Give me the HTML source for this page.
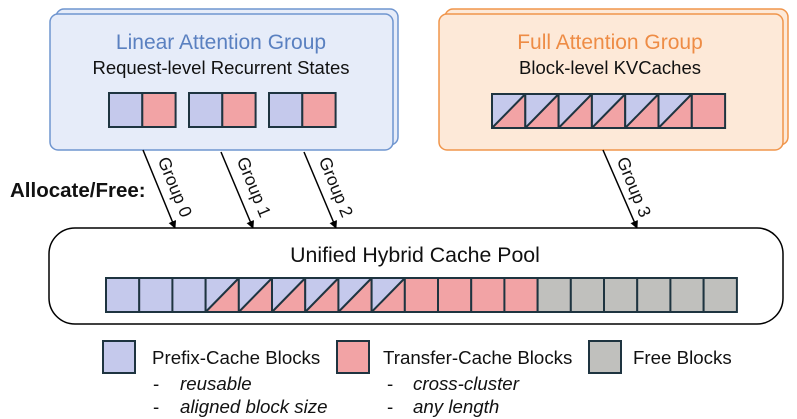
<!DOCTYPE html>
<html><head><meta charset="utf-8"><style>
html,body{margin:0;padding:0;background:#fff}
svg{display:block;font-family:"Liberation Sans",Arial,sans-serif}
</style></head><body>
<svg width="797" height="419" viewBox="0 0 797 419" xmlns="http://www.w3.org/2000/svg">
<defs>
<marker id="ah" markerWidth="8" markerHeight="8" refX="7" refY="4" orient="auto" markerUnits="userSpaceOnUse">
<path d="M0,0 L8,4 L0,8 z" fill="#000"/></marker>
<g id="bs"><rect x="0" y="0" width="33.3" height="34" fill="#c5c9ec"/><path d="M0,34 L33.3,0 L33.3,34 z" fill="#f2a3a5"/><rect x="0" y="0" width="33.3" height="34" fill="none" stroke="#1e3440" stroke-width="2"/><line x1="0" y1="34" x2="33.3" y2="0" stroke="#1e3440" stroke-width="2"/></g>
<rect id="bb" x="0" y="0" width="33.3" height="34" fill="#c5c9ec" stroke="#1e3440" stroke-width="2"/>
<rect id="br" x="0" y="0" width="33.3" height="34" fill="#f2a3a5" stroke="#1e3440" stroke-width="2"/>
<rect id="bg" x="0" y="0" width="33.3" height="34" fill="#c0c0bd" stroke="#1e3440" stroke-width="2"/>
</defs>
<rect x="56" y="9" width="342" height="136" rx="8" fill="#e6ecf9" stroke="#6f95cf" stroke-width="1.5"/>
<rect x="50" y="14" width="343" height="136" rx="8" fill="#e6ecf9" stroke="#6f95cf" stroke-width="1.5"/>
<text x="221" y="49" font-size="21" fill="#5a80c0" text-anchor="middle">Linear Attention Group</text>
<text x="221" y="74" font-size="18.5" fill="#111" text-anchor="middle">Request-level Recurrent States</text>
<use href="#bb" x="109" y="93"/><use href="#br" x="142.3" y="93"/>
<use href="#bb" x="189" y="93"/><use href="#br" x="222.3" y="93"/>
<use href="#bb" x="269" y="93"/><use href="#br" x="302.3" y="93"/>
<rect x="445" y="9" width="343" height="136" rx="8" fill="#fde9d8" stroke="#f0954b" stroke-width="1.5"/>
<rect x="439" y="14" width="344" height="136" rx="8" fill="#fde9d8" stroke="#f0954b" stroke-width="1.5"/>
<text x="610" y="49" font-size="21" fill="#ee8c45" text-anchor="middle">Full Attention Group</text>
<text x="610" y="74" font-size="18.5" fill="#111" text-anchor="middle">Block-level KVCaches</text>
<use href="#bs" x="492" y="94"/><use href="#bs" x="525.3" y="94"/><use href="#bs" x="558.6" y="94"/><use href="#bs" x="591.9" y="94"/><use href="#bs" x="625.2" y="94"/><use href="#bs" x="658.5" y="94"/><use href="#br" x="691.8" y="94"/>
<g stroke="#000" stroke-width="1.5" marker-end="url(#ah)">
<line x1="143" y1="150" x2="175" y2="228"/>
<line x1="221" y1="152" x2="253" y2="228"/>
<line x1="304" y1="152" x2="336" y2="228"/>
<line x1="603" y1="150" x2="637" y2="228"/>
</g>
<g font-size="17.5" fill="#111" text-anchor="middle">
<text transform="translate(175,187) rotate(67.7)" dy="6">Group 0</text>
<text transform="translate(254,187) rotate(67.7)" dy="6">Group 1</text>
<text transform="translate(336,187) rotate(67.7)" dy="6">Group 2</text>
<text transform="translate(634,187) rotate(67.7)" dy="6">Group 3</text>
</g>
<text x="10" y="197" font-size="20.5" font-weight="bold" fill="#111">Allocate/Free:</text>
<rect x="49" y="228" width="734" height="96" rx="26" fill="#fff" stroke="#000" stroke-width="1.5"/>
<text x="415" y="262" font-size="21.3" fill="#111" text-anchor="middle">Unified Hybrid Cache Pool</text>
<g transform="translate(106,278)">
<use href="#bb" x="0"/><use href="#bb" x="33.2"/><use href="#bb" x="66.4"/>
<use href="#bs" x="99.6"/><use href="#bs" x="132.8"/><use href="#bs" x="166"/><use href="#bs" x="199.2"/><use href="#bs" x="232.4"/><use href="#bs" x="265.6"/>
<use href="#br" x="298.8"/><use href="#br" x="332"/><use href="#br" x="365.2"/><use href="#br" x="398.4"/>
<use href="#bg" x="431.6"/><use href="#bg" x="464.8"/><use href="#bg" x="498"/><use href="#bg" x="531.2"/><use href="#bg" x="564.4"/><use href="#bg" x="597.6"/>
</g>
<rect x="103" y="341" width="32" height="32" fill="#c5c9ec" stroke="#1e3440" stroke-width="2"/>
<rect x="337" y="341" width="32" height="32" fill="#f2a3a5" stroke="#1e3440" stroke-width="2"/>
<rect x="589" y="341" width="32" height="32" fill="#c0c0bd" stroke="#1e3440" stroke-width="2"/>
<g font-size="18.7" fill="#111">
<text x="152" y="364">Prefix-Cache Blocks</text>
<text x="383" y="364">Transfer-Cache Blocks</text>
<text x="633" y="364">Free Blocks</text>
<text x="153" y="390">-</text><text x="180" y="390" font-style="italic">reusable</text>
<text x="153" y="413">-</text><text x="180" y="413" font-style="italic">aligned block size</text>
<text x="387" y="390">-</text><text x="413" y="390" font-style="italic">cross-cluster</text>
<text x="387" y="413">-</text><text x="413" y="413" font-style="italic">any length</text>
</g>
</svg>
</body></html>
